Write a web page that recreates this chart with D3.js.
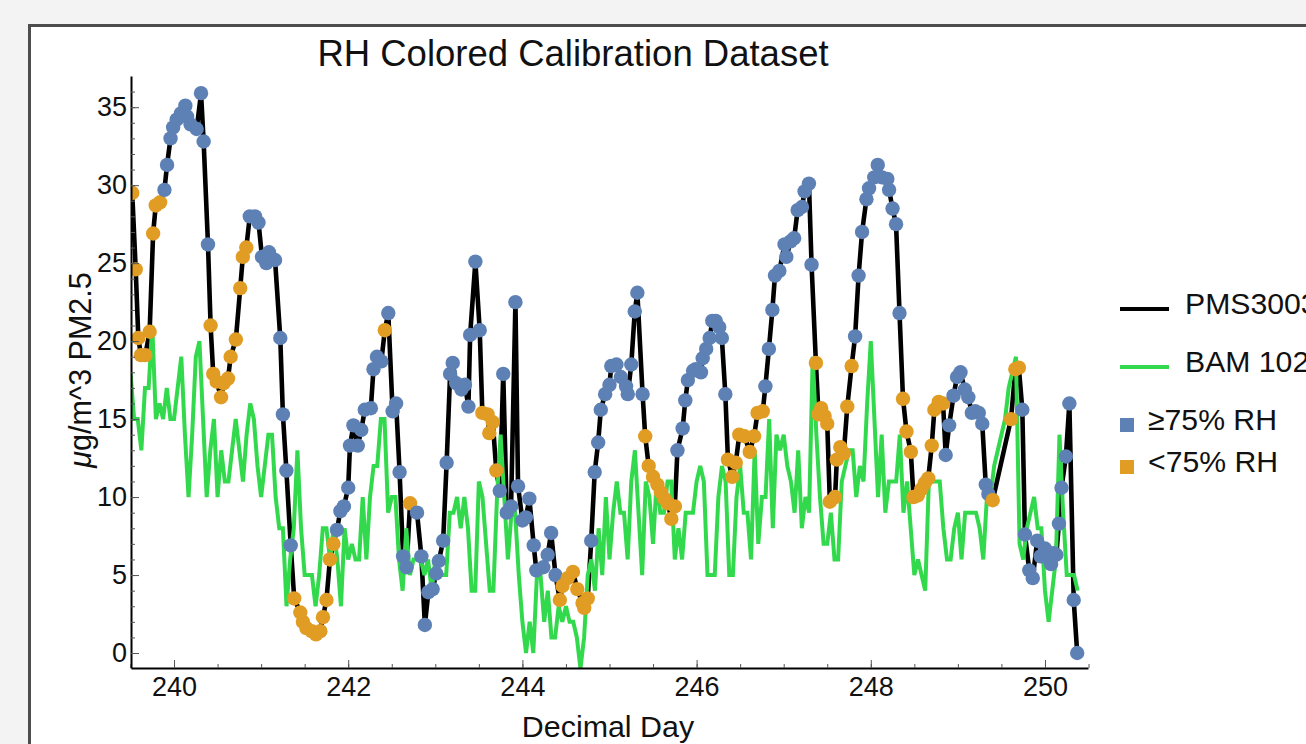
<!DOCTYPE html>
<html>
<head>
<meta charset="utf-8">
<script src="https://cdn.jsdelivr.net/npm/d3@7"></script>
<style>
  body { margin: 0; background: #f3f3f3; }
  svg { display: block; }
  text { font-family: "Liberation Sans", Arial, sans-serif; fill: #111; }
</style>
</head>
<body>
<div id="chart"></div>
<script>
// ---------------- DATA ----------------

// BAM 1020: hourly readings starting at decimal day 239.5
const bamStart = 239.5;
const bamValues = [
  18, 15, 15, 13, 17, 17, 21, 15, 16, 15,
  17, 15, 15, 17, 19, 14, 10, 14, 19, 20,
  15, 10, 13, 15, 10, 13, 11, 11, 13, 15,
  13, 11, 14, 16, 15, 12, 10, 12, 14, 14,
  10, 8, 8, 3, 6, 8, 13, 8, 5, 5,
  5, 3, 5, 8, 8, 6, 8, 6, 3, 8,
  6, 7, 6, 6, 10, 6, 10, 12, 12, 15,
  15, 9, 10, 10, 6, 4, 8, 5, 6, 6,
  6, 5, 6, 4, 6, 5, 5, 5, 9, 9,
  10, 8, 10, 8, 4, 4, 11, 10, 7, 4,
  4, 10, 14, 10, 6, 9, 9, 5, 2, 0,
  2, 0, 5, 5, 2, 4, 1, 1, 3, 2,
  3, 2, 2, 1, -1, 1, 5, 6, 4, 8,
  5, 10, 6, 9, 11, 9, 9, 6, 11, 13,
  9, 5, 11, 10, 7, 11, 9, 9, 11, 11,
  6, 8, 6, 9, 9, 9, 11, 12, 11, 5,
  5, 5, 10, 12, 11, 5, 5, 10, 12, 9,
  9, 6, 13, 7, 10, 10, 15, 8, 14, 13,
  14, 12, 11, 9, 13, 8, 10, 9, 19, 14,
  10, 7, 7, 9, 6, 6, 11, 12, 13, 13,
  10, 12, 11, 16, 20, 15, 10, 14, 9, 11,
  11, 11, 14, 9, 11, 8, 5, 6, 5, 4,
  11, 11, 11, 11, 8, 6, 6, 8, 9, 6,
  9, 9, 9, 9, 8, 6, 10, 10, 12, 13,
  14, 15, 17, 18, 19, 7, 6, 8, 9, 10,
  8, 8, 4, 2, 4, 6, 14, 9, 5, 5,
  5, 4
];

// PMS3003 samples
const pmsDay = [
  239.52, 239.56, 239.59, 239.62, 239.67, 239.72, 239.76, 239.79, 239.84,
  239.89, 239.92, 239.96, 239.99, 240.03, 240.08, 240.13, 240.15, 240.19, 240.26, 240.31, 240.34, 240.39,
  240.42, 240.45, 240.49, 240.54, 240.57, 240.62, 240.65, 240.71, 240.76, 240.79, 240.83,
  240.87, 240.93, 240.97, 241.01, 241.06, 241.09, 241.16, 241.22, 241.25, 241.29, 241.34,
  241.38, 241.45, 241.48, 241.52, 241.58, 241.63, 241.68, 241.71, 241.75, 241.79, 241.83,
  241.87, 241.91, 241.95, 242.00, 242.02, 242.06, 242.11, 242.15, 242.19, 242.26, 242.29, 242.33, 242.38,
  242.42,
  242.46, 242.51, 242.55, 242.59, 242.63, 242.67,
  242.71,
  242.79, 242.84, 242.88, 242.92, 242.97, 243.01, 243.04, 243.09, 243.13, 243.17, 243.20, 243.24, 243.30, 243.34, 243.38, 243.40, 243.46, 243.51,
  243.54, 243.60, 243.62, 243.66, 243.70,
  243.74, 243.78, 243.82, 243.87, 243.92, 243.95, 244.00, 244.04, 244.08, 244.13, 244.16, 244.24, 244.29, 244.33, 244.38,
  244.43, 244.46, 244.52, 244.58, 244.63, 244.69, 244.71, 244.75,
  244.79, 244.83, 244.87, 244.90, 244.95, 245.00, 245.02, 245.08, 245.13, 245.19, 245.21, 245.25, 245.29, 245.32, 245.38,
  245.41, 245.45, 245.50, 245.55, 245.59, 245.63, 245.67, 245.71, 245.75,
  245.78, 245.84, 245.87, 245.90, 245.96, 245.99, 246.05, 246.07, 246.11, 246.15, 246.18, 246.22, 246.26, 246.29, 246.33,
  246.36, 246.41, 246.45, 246.49, 246.55, 246.61, 246.66, 246.70, 246.76,
  246.79, 246.83, 246.87, 246.90, 246.95, 247.01, 247.03, 247.08, 247.12, 247.16, 247.21, 247.24, 247.29, 247.32,
  247.37, 247.40, 247.43, 247.47, 247.50, 247.53, 247.59, 247.61, 247.65, 247.69, 247.73, 247.78,
  247.82, 247.86, 247.90, 247.95, 247.98, 248.04, 248.08, 248.13, 248.19, 248.21, 248.25, 248.29, 248.33,
  248.37, 248.41, 248.46, 248.49, 248.54, 248.58, 248.62, 248.66, 248.70, 248.73, 248.78, 248.83,
  248.86, 248.90, 248.95, 248.99, 249.03, 249.08, 249.12, 249.16, 249.20, 249.24, 249.28, 249.32, 249.35,
  249.40, 249.61, 249.66, 249.70,
  249.74, 249.77, 249.82, 249.86, 249.91, 249.95, 250.00, 250.03, 250.07, 250.10, 250.13, 250.16, 250.19, 250.24, 250.28, 250.33, 250.37
];
const pmsValue = [
  29.5, 24.6, 20.2, 19.1, 19.1, 20.6, 26.9, 28.7, 28.9,
  29.7, 31.3, 33.0, 33.7, 34.2, 34.6, 35.1, 34.4, 33.9, 33.6, 35.9, 32.8, 26.2,
  21.0, 17.9, 17.4, 16.4, 17.3, 17.6, 19.0, 20.1, 23.4, 25.4, 26.0,
  28.0, 28.0, 27.6, 25.4, 25.0, 25.7, 25.2, 20.2, 15.3, 11.7, 6.9,
  3.5, 2.6, 2.0, 1.6, 1.4, 1.2, 1.4, 2.3, 3.4, 6.0, 7.0,
  7.9, 9.1, 9.4, 10.6, 13.3, 14.6, 13.3, 14.3, 15.6, 15.7, 18.2, 19.0, 18.7,
  20.7,
  21.8, 15.5, 16.0, 11.6, 6.2, 5.5,
  9.6,
  9.0, 6.2, 1.8, 3.9, 4.1, 5.1, 5.9, 7.2, 12.2, 17.9, 18.6, 17.3, 16.9, 17.2, 15.8, 20.4, 25.1, 20.7,
  15.4, 15.3, 14.1, 14.8, 11.7,
  10.4, 17.9, 9.0, 9.4, 22.5, 10.7, 8.5, 8.7, 9.9, 6.9, 5.3, 5.5, 6.3, 7.7, 5.0,
  3.4, 4.3, 4.8, 5.2, 4.1, 3.2, 2.9, 3.5,
  7.2, 11.6, 13.5, 15.6, 16.6, 17.2, 18.4, 18.5, 17.7, 17.1, 16.6, 18.5, 21.9, 23.1, 16.6,
  13.9, 12.0, 11.3, 10.8, 10.3, 9.9, 9.6, 8.6, 9.4,
  13.0, 14.4, 16.2, 17.5, 18.1, 18.2, 18.0, 18.9, 19.5, 20.2, 21.3, 21.3, 20.9, 20.2, 16.6,
  12.4, 11.3, 12.2, 14.0, 13.9, 12.9, 13.9, 15.4, 15.5,
  17.1, 19.5, 22.0, 24.2, 24.5, 26.2, 25.4, 26.4, 26.6, 28.4, 28.6, 29.6, 30.1, 24.9,
  18.6, 15.3, 15.7, 15.2, 14.7, 9.7, 10.0, 12.4, 13.2, 12.8, 15.8, 18.4,
  20.3, 24.2, 27.0, 29.1, 29.8, 30.5, 31.3, 30.5, 30.4, 29.7, 28.5, 27.5, 21.8,
  16.3, 14.2, 12.9, 10.0, 10.1, 10.5, 10.9, 11.2, 13.3, 15.6, 16.1, 16.0,
  12.7, 14.6, 16.5, 17.7, 18.0, 16.9, 16.4, 15.4, 15.5, 15.4, 14.7, 10.8, 10.2,
  9.8, 15.0, 18.2, 18.3,
  15.6, 7.6, 5.3, 4.8, 7.2, 6.2, 6.7, 6.1, 5.7, 6.4, 6.3, 8.3, 10.6, 12.6, 16.0, 3.4, 0.0
];
// 1 = RH >= 75%, 0 = RH < 75%
const pmsHighRH = [
  0, 0, 0, 0, 0, 0, 0, 0, 0,
  1, 1, 1, 1, 1, 1, 1, 1, 1, 1, 1, 1, 1,
  0, 0, 0, 0, 0, 0, 0, 0, 0, 0, 0,
  1, 1, 1, 1, 1, 1, 1, 1, 1, 1, 1,
  0, 0, 0, 0, 0, 0, 0, 0, 0, 0, 0,
  1, 1, 1, 1, 1, 1, 1, 1, 1, 1, 1, 1, 1,
  0,
  1, 1, 1, 1, 1, 1,
  0,
  1, 1, 1, 1, 1, 1, 1, 1, 1, 1, 1, 1, 1, 1, 1, 1, 1, 1,
  0, 0, 0, 0, 0,
  1, 1, 1, 1, 1, 1, 1, 1, 1, 1, 1, 1, 1, 1, 1,
  0, 0, 0, 0, 0, 0, 0, 0,
  1, 1, 1, 1, 1, 1, 1, 1, 1, 1, 1, 1, 1, 1, 1,
  0, 0, 0, 0, 0, 0, 0, 0, 0,
  1, 1, 1, 1, 1, 1, 1, 1, 1, 1, 1, 1, 1, 1, 1,
  0, 0, 0, 0, 0, 0, 0, 0, 0,
  1, 1, 1, 1, 1, 1, 1, 1, 1, 1, 1, 1, 1, 1,
  0, 0, 0, 0, 0, 0, 0, 0, 0, 0, 0, 0,
  1, 1, 1, 1, 1, 1, 1, 1, 1, 1, 1, 1, 1,
  0, 0, 0, 0, 0, 0, 0, 0, 0, 0, 0, 0,
  1, 1, 1, 1, 1, 1, 1, 1, 1, 1, 1, 1, 1,
  0, 0, 0, 0,
  1, 1, 1, 1, 1, 1, 1, 1, 1, 1, 1, 1, 1, 1, 1, 1, 1
];

const xTicks = [240, 242, 244, 246, 248, 250];
const yTicks = [0, 5, 10, 15, 20, 25, 30, 35];
const legendItems = ["PMS3003", "BAM 1020", "\u226575% RH", "<75% RH"];

// ---------------- CHART ----------------
const W = 1306, H = 744;
const colBlue = "#5e81b5", colOrange = "#e19c24", colGreen = "#33d94c";

const svg = d3.select("#chart").append("svg").attr("width", W).attr("height", H);

// white panel with grey frame (cut off by the window on right/bottom)
svg.append("rect")
  .attr("x", 29.5).attr("y", 25.5).attr("width", 1300).attr("height", 740)
  .attr("fill", "#fff").attr("stroke", "#4d4d4d").attr("stroke-width", 3);

const x = d3.scaleLinear().domain([239.506, 250.494]).range([131, 1088]);
const y = d3.scaleLinear().domain([-0.96, 37]).range([668, 76]);

svg.append("clipPath").attr("id", "plotClip")
  .append("rect").attr("x", 131).attr("y", 76).attr("width", 957).attr("height", 592);

const bam = bamValues.map((v, i) => ({ day: bamStart + i / 24, v }));
const pms = pmsDay.map((d, i) => ({ day: d, v: pmsValue[i], high: pmsHighRH[i] }));

const line = d3.line().x(d => x(d.day)).y(d => y(d.v));
const plot = svg.append("g").attr("clip-path", "url(#plotClip)");

plot.append("path").datum(pms)
  .attr("d", line).attr("fill", "none")
  .attr("stroke", "#000").attr("stroke-width", 4.6).attr("stroke-linejoin", "round");

plot.append("path").datum(bam)
  .attr("d", line).attr("fill", "none")
  .attr("stroke", colGreen).attr("stroke-width", 4).attr("stroke-linejoin", "miter");

plot.selectAll("circle").data(pms).enter().append("circle")
  .attr("cx", d => x(d.day)).attr("cy", d => y(d.v)).attr("r", 7.2)
  .attr("fill", d => d.high ? colBlue : colOrange);

// axes
const tickFont = 27;
const gx = svg.append("g").attr("transform", "translate(0,668)")
  .call(d3.axisBottom(x).tickValues(xTicks).tickFormat(d3.format("d"))
    .tickSizeInner(-8).tickSizeOuter(0).tickPadding(9));
const gxMinor = svg.append("g").attr("transform", "translate(0,668)")
  .call(d3.axisBottom(x).tickValues(d3.range(239.5, 250.6, 0.5)).tickFormat("")
    .tickSizeInner(-4).tickSizeOuter(0));
gxMinor.select(".domain").remove();

const gy = svg.append("g").attr("transform", "translate(131,0)")
  .call(d3.axisLeft(y).tickValues(yTicks).tickSizeInner(-8).tickSizeOuter(0).tickPadding(4));
const gyMinor = svg.append("g").attr("transform", "translate(131,0)")
  .call(d3.axisLeft(y).tickValues(d3.range(0, 37, 1)).tickFormat("")
    .tickSizeInner(-4).tickSizeOuter(0));
gyMinor.select(".domain").remove();

[gx, gy].forEach(g => {
  g.select(".domain").attr("stroke", "#000").attr("stroke-width", 2);
  g.selectAll(".tick text").attr("font-size", tickFont)
    .attr("font-family", "'Liberation Sans', Arial, sans-serif").attr("fill", "#111");
});
[gx, gy, gxMinor, gyMinor].forEach(g => g.selectAll(".tick line").attr("stroke", "#555"));

// titles
svg.append("text").attr("x", 573).attr("y", 66).attr("text-anchor", "middle")
  .attr("font-size", 36.5).text("RH Colored Calibration Dataset");

svg.append("text").attr("x", 608).attr("y", 737).attr("text-anchor", "middle")
  .attr("font-size", 30.4).text("Decimal Day");

const yl = svg.append("text").attr("transform", "translate(91,370) rotate(-90)")
  .attr("text-anchor", "middle").attr("font-size", 30.5);
yl.append("tspan").attr("font-style", "italic").text("\u03bc");
yl.append("tspan").text("g/m^3 PM2.5");

// legend (text runs past the right edge, as in the original screenshot)
const legFont = 30.2;
const leg = svg.append("g");
leg.append("line").attr("x1", 1120).attr("x2", 1169).attr("y1", 309).attr("y2", 309)
  .attr("stroke", "#000").attr("stroke-width", 4);
leg.append("text").attr("x", 1185).attr("y", 314).attr("font-size", legFont).text(legendItems[0]);
leg.append("line").attr("x1", 1120).attr("x2", 1169).attr("y1", 367).attr("y2", 367)
  .attr("stroke", colGreen).attr("stroke-width", 4);
leg.append("text").attr("x", 1185).attr("y", 372).attr("font-size", legFont).text(legendItems[1]);
leg.append("rect").attr("x", 1120).attr("y", 418).attr("width", 14).attr("height", 14).attr("fill", colBlue);
leg.append("text").attr("x", 1148).attr("y", 430).attr("font-size", legFont).text(legendItems[2]);
leg.append("rect").attr("x", 1120).attr("y", 460).attr("width", 14).attr("height", 14).attr("fill", colOrange);
leg.append("text").attr("x", 1148).attr("y", 472).attr("font-size", legFont).text(legendItems[3]);
</script>
</body>
</html>
